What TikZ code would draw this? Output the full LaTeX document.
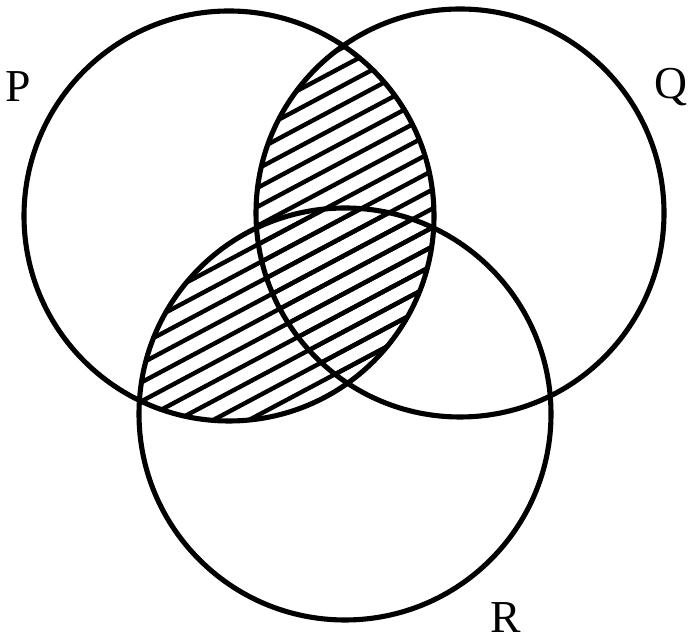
\documentclass[tikz,border=0pt]{standalone}
\usepackage{fontspec}
\setmainfont{Liberation Serif}

\begin{document}
\begin{tikzpicture}[setline/.style={line width=2.9pt}, hatch/.style={line width=2.5pt}, every node/.style={font=\fontsize{26}{30}\selectfont}]
    \useasboundingbox (0,0) rectangle (13.8,12.88);
    \coordinate (cP) at (4.58,8.56);
    \coordinate (cQ) at (9.20,8.62);
    \coordinate (cR) at (6.90,4.60);

    % hatching, P and Q
    \begin{scope}
        \clip (cP) circle (4.1);
        \clip (cQ) circle (4.08);
        \begin{scope}[shift={(6.3,6.7)}, rotate=28]
            \foreach \k in {-22,...,22}
                \draw[hatch] (-9,\k*0.335) -- (9,\k*0.335);
        \end{scope}
    \end{scope}
    % hatching, P and R
    \begin{scope}
        \clip (cP) circle (4.1);
        \clip (cR) circle (4.12);
        \begin{scope}[shift={(6.3,6.7)}, rotate=28]
            \foreach \k in {-22,...,22}
                \draw[hatch] (-9,\k*0.335) -- (9,\k*0.335);
        \end{scope}
    \end{scope}

    \draw[setline] (cP) circle (4.1);
    \draw[setline] (cQ) circle (4.08);
    \draw[setline] (cR) circle (4.12);

    \node (labP) at (0.36,11.14) {P};
    \node (labQ) at (13.42,11.14) {Q};
    \node (labR) at (10.12,0.52) {R};
\end{tikzpicture}
\end{document}
